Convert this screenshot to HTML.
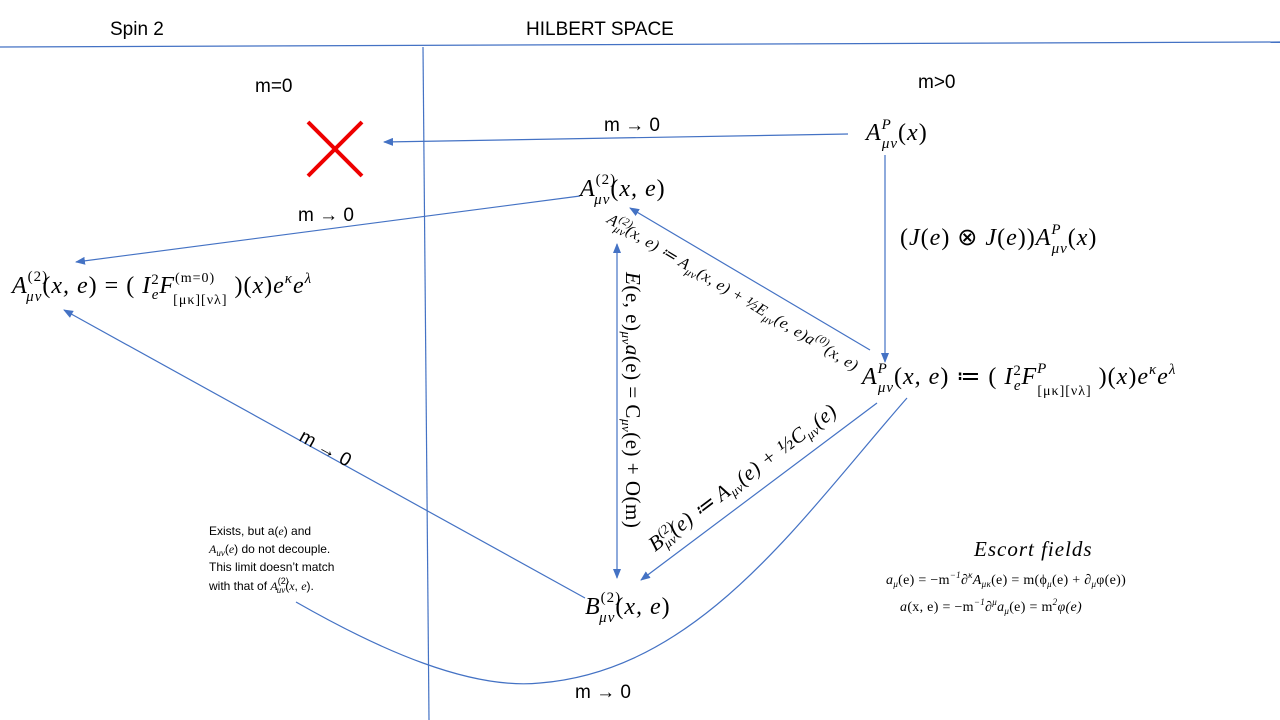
<!DOCTYPE html>
<html><head><meta charset="utf-8"><style>
body{margin:0;background:#fff;}
svg{display:block;font-family:"Liberation Sans",sans-serif;}
.m{font-family:"Liberation Serif",serif;font-style:italic;}
.r{font-family:"Liberation Serif",serif;}
</style></head><body>
<svg width="1280" height="720" viewBox="0 0 1280 720">
<defs><marker id="ah" markerWidth="10" markerHeight="8" refX="9" refY="4" orient="auto" markerUnits="userSpaceOnUse"><path d="M0,0 L10,4 L0,8 z" fill="#4472c4"/></marker>
<marker id="as" markerWidth="10" markerHeight="8" refX="1" refY="4" orient="auto" markerUnits="userSpaceOnUse"><path d="M10,0 L0,4 L10,8 z" fill="#4472c4"/></marker></defs>
<g stroke="#4472c4" stroke-width="1.2" fill="none">
<line x1="0" y1="47" x2="1280" y2="42"/>
<line x1="423" y1="47" x2="429" y2="720"/>
<line x1="848" y1="134" x2="384" y2="142" marker-end="url(#ah)"/>
<line x1="580" y1="196" x2="76" y2="262" marker-end="url(#ah)"/>
<line x1="885" y1="155" x2="885" y2="362" marker-end="url(#ah)"/>
<line x1="870" y1="350" x2="630" y2="208" marker-end="url(#ah)"/>
<line x1="617" y1="244" x2="617" y2="578" marker-start="url(#as)" marker-end="url(#ah)"/>
<line x1="877" y1="403" x2="641" y2="580" marker-end="url(#ah)"/>
<line x1="585" y1="598" x2="64" y2="310" marker-end="url(#ah)"/>
<path d="M296,602 C380,650 470,690 540,683 C700,670 800,520 907,398"/>
</g>
<g stroke="#e00" stroke-width="4"><line x1="308" y1="122" x2="362" y2="176"/><line x1="362" y1="122" x2="308" y2="176"/></g>
<g font-size="19" fill="#000">
<text x="110" y="35">Spin 2</text>
<text x="526" y="35">HILBERT SPACE</text>
<text x="255" y="92">m=0</text>
<text x="918" y="88">m&gt;0</text>
<text x="604" y="131">m → 0</text>
<text x="298" y="221">m → 0</text>
<text x="298" y="440" transform="rotate(29 298 440)">m → 0</text>
<text x="575" y="698">m → 0</text>
</g>
<g font-size="24" class="m" letter-spacing="1">
<text x="866" y="140">A<tspan font-size="15" dy="-11">P</tspan><tspan font-size="15" dx="-10" dy="19">μν</tspan><tspan dy="-8" font-style="normal">(</tspan>x<tspan font-style="normal">)</tspan></text>
<text x="580" y="196">A<tspan font-size="15" dy="-12" font-style="normal">(2)</tspan><tspan font-size="15" dx="-22" dy="20">μν</tspan><tspan dy="-8" font-style="normal">(</tspan>x, e<tspan font-style="normal">)</tspan></text>
<text x="900" y="245"><tspan font-style="normal">(</tspan>J<tspan font-style="normal">(</tspan>e<tspan font-style="normal">) ⊗ </tspan>J<tspan font-style="normal">(</tspan>e<tspan font-style="normal">))</tspan>A<tspan font-size="15" dy="-11">P</tspan><tspan font-size="15" dx="-10" dy="19">μν</tspan><tspan dy="-8" font-style="normal">(</tspan>x<tspan font-style="normal">)</tspan></text>
<text x="12" y="293">A<tspan font-size="15" dy="-12" font-style="normal">(2)</tspan><tspan font-size="15" dx="-22" dy="20">μν</tspan><tspan dy="-8" font-style="normal">(</tspan>x, e<tspan font-style="normal">) = ( </tspan>I<tspan font-size="15" dy="-9" font-style="normal">2</tspan><tspan font-size="15" dx="-8" dy="15">e</tspan><tspan dy="-6">F</tspan><tspan font-size="14" dy="-11" font-style="normal">(m=0)</tspan><tspan font-size="14" dx="-42" dy="22" font-style="normal">[μκ][νλ]</tspan><tspan dy="-11" font-style="normal"> )(</tspan>x<tspan font-style="normal">)</tspan>e<tspan font-size="15" dy="-10">κ</tspan><tspan dy="10">e</tspan><tspan font-size="15" dy="-10">λ</tspan></text>
<text x="862" y="384">A<tspan font-size="15" dy="-11">P</tspan><tspan font-size="15" dx="-10" dy="19">μν</tspan><tspan dy="-8" font-style="normal">(</tspan>x, e<tspan font-style="normal">) ≔ ( </tspan>I<tspan font-size="15" dy="-9" font-style="normal">2</tspan><tspan font-size="15" dx="-8" dy="15">e</tspan><tspan dy="-6">F</tspan><tspan font-size="15" dy="-11">P</tspan><tspan font-size="14" dx="-10" dy="22" font-style="normal">[μκ][νλ]</tspan><tspan dy="-11" font-style="normal"> )(</tspan>x<tspan font-style="normal">)</tspan>e<tspan font-size="15" dy="-10">κ</tspan><tspan dy="10">e</tspan><tspan font-size="15" dy="-10">λ</tspan></text>
<text x="585" y="614">B<tspan font-size="15" dy="-12" font-style="normal">(2)</tspan><tspan font-size="15" dx="-22" dy="20">μν</tspan><tspan dy="-8" font-style="normal">(</tspan>x, e<tspan font-style="normal">)</tspan></text>
<text x="974" y="556" font-size="21">Escort fields</text>
</g>
<g class="m" font-size="21" letter-spacing="0.5">
<text x="626" y="272" transform="rotate(90 626 272)">E<tspan font-style="normal">(e, e)</tspan><tspan font-size="13" dy="4">μν</tspan><tspan dy="-4">a</tspan><tspan font-style="normal">(e) = C</tspan><tspan font-size="13" dy="4">μν</tspan><tspan dy="-4" font-style="normal">(e) + O(m)</tspan></text>
<text x="606" y="222" font-size="16" transform="rotate(31 606 222)">A<tspan font-size="11" dy="-7">(2)</tspan><tspan font-size="11" dx="-14" dy="11">μν</tspan><tspan dy="-4">(x, e) ≔ A</tspan><tspan font-size="11" dy="4">μν</tspan><tspan dy="-4">(x, e) + ½E</tspan><tspan font-size="11" dy="4">μν</tspan><tspan dy="-4">(e, e)a</tspan><tspan font-size="11" dy="-7">(0)</tspan><tspan dy="7">(x, e)</tspan></text>
<text x="655" y="552" transform="rotate(-37 655 552)">B<tspan font-size="13" dy="-8">(2)</tspan><tspan font-size="13" dx="-18" dy="13">μν</tspan><tspan dy="-5">(e) ≔ A</tspan><tspan font-size="13" dy="4">μν</tspan><tspan dy="-4">(e) + ½C</tspan><tspan font-size="13" dy="4">μν</tspan><tspan dy="-4">(e)</tspan></text>
<text x="886" y="584" font-size="14" letter-spacing="0.3">a<tspan font-size="9" dy="3">μ</tspan><tspan dy="-3" font-style="normal">(e) = −m</tspan><tspan font-size="9" dy="-6">−1</tspan><tspan dy="6">∂</tspan><tspan font-size="9" dy="-6">κ</tspan><tspan dy="6">A</tspan><tspan font-size="9" dy="3">μκ</tspan><tspan dy="-3" font-style="normal">(e) = m(ϕ</tspan><tspan font-size="9" dy="3">μ</tspan><tspan dy="-3" font-style="normal">(e) + ∂</tspan><tspan font-size="9" dy="3">μ</tspan><tspan dy="-3" font-style="normal">φ(e))</tspan></text>
<text x="900" y="611" font-size="14" letter-spacing="0.3">a<tspan font-style="normal">(x, e) = −m</tspan><tspan font-size="9" dy="-6">−1</tspan><tspan dy="6">∂</tspan><tspan font-size="9" dy="-6">μ</tspan><tspan dy="6">a</tspan><tspan font-size="9" dy="3">μ</tspan><tspan dy="-3" font-style="normal">(e) = m</tspan><tspan font-size="9" dy="-6">2</tspan><tspan dy="6">φ(e)</tspan></text>
</g>
<g font-size="12">
<text x="209" y="535">Exists, but a(<tspan class="m">e</tspan>) and</text>
<text x="209" y="553"><tspan class="m">A<tspan font-size="9" dy="3">uv</tspan></tspan><tspan dy="-3">(<tspan class="m">e</tspan>) do not decouple.</tspan></text>
<text x="209" y="571">This limit doesn’t match</text>
<text x="209" y="590">with that of <tspan class="m">A</tspan><tspan font-size="9" dy="-6">(2)</tspan><tspan font-size="9" dx="-12" dy="9" class="m">uv</tspan><tspan dy="-3">(<tspan class="m">x</tspan>, <tspan class="m">e</tspan>).</tspan></text>
</g>
</svg>
</body></html>
